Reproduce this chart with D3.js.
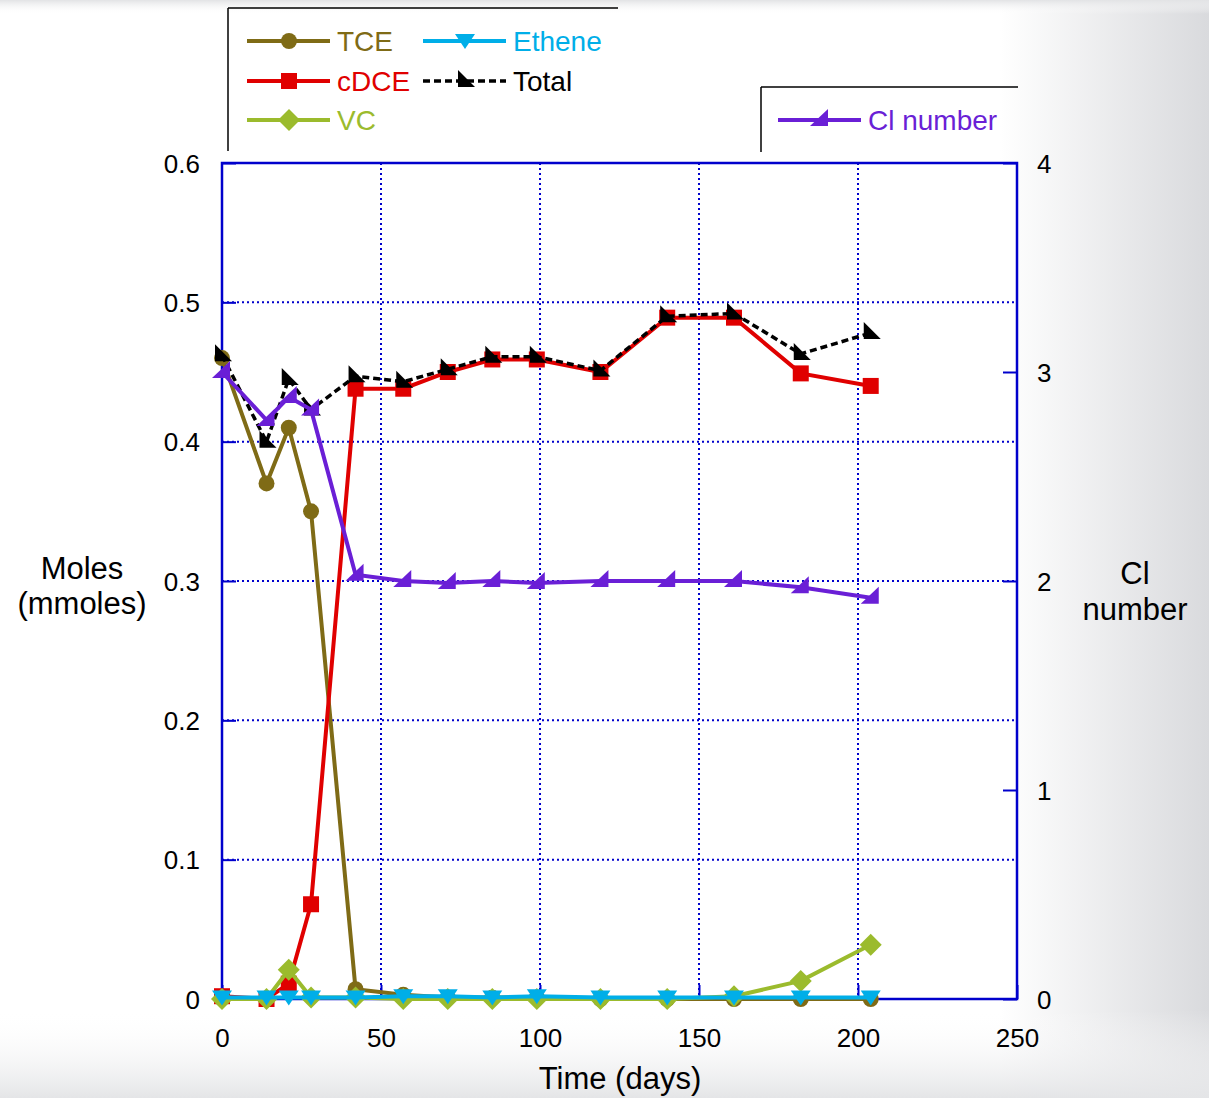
<!DOCTYPE html>
<html>
<head>
<meta charset="utf-8">
<script src="https://cdn.jsdelivr.net/npm/d3@7"></script>
<style>
  body { margin: 0; background: #fff; }
  svg text { font-family: "Liberation Sans", Arial, sans-serif; }
</style>
</head>
<body>
<div id="chart"></div>
<script>
// sampling days
var days = [0, 14, 21, 28, 42, 57, 71, 85, 99, 119, 140, 161, 182, 204];

// moles (mmoles)
var tce    = [0.46, 0.37, 0.41, 0.35, 0.007, 0.003, 0.001, 0.001, 0.001, 0, 0, 0, 0, 0];
var cdce   = [0.002, 0, 0.011, 0.068, 0.438, 0.438, 0.45, 0.459, 0.459, 0.45, 0.489, 0.489, 0.449, 0.44];
var vc     = [0, 0, 0.021, 0.001, 0.001, 0, 0, 0, 0, 0, 0, 0.002, 0.013, 0.039];
var ethene = [0.001, 0.001, 0.001, 0.001, 0.001, 0.002, 0.002, 0.001, 0.002, 0.001, 0.001, 0.001, 0.001, 0.001];
var total  = [0.462, 0.40, 0.445, 0.423, 0.447, 0.443, 0.452, 0.461, 0.461, 0.451, 0.49, 0.492, 0.463, 0.478];

// chlorine number (right axis)
var clNumber = [3.0, 2.77, 2.88, 2.82, 2.03, 2.0, 1.99, 2.0, 1.99, 2.0, 2.0, 2.0, 1.97, 1.92];

var xTicks = [0, 50, 100, 150, 200, 250];
var yTicks = [0, 0.1, 0.2, 0.3, 0.4, 0.5, 0.6];
var y2Ticks = [0, 1, 2, 3, 4];

var W = 1209, H = 1098;
var plot = {left: 222, right: 1017, top: 163, bottom: 999};
var axisBlue = "#0000cc";

var svg = d3.select("#chart").append("svg")
    .attr("width", W)
    .attr("height", H);

// slide background gradients
var defs = svg.append("defs");
var gr = defs.append("linearGradient").attr("id", "gRight").attr("x1", 0).attr("x2", 1).attr("y1", 0).attr("y2", 0);
gr.append("stop").attr("offset", 0).attr("stop-color", "#ffffff");
gr.append("stop").attr("offset", 1).attr("stop-color", "#d9dadd");
var gb = defs.append("linearGradient").attr("id", "gBottom").attr("x1", 0).attr("x2", 0).attr("y1", 0).attr("y2", 1);
gb.append("stop").attr("offset", 0).attr("stop-color", "#ffffff").attr("stop-opacity", 0);
gb.append("stop").attr("offset", 1).attr("stop-color", "#e4e5e7").attr("stop-opacity", 1);
var gt = defs.append("linearGradient").attr("id", "gTop").attr("x1", 0).attr("x2", 0).attr("y1", 0).attr("y2", 1);
gt.append("stop").attr("offset", 0).attr("stop-color", "#e2e3e5").attr("stop-opacity", 1);
gt.append("stop").attr("offset", 1).attr("stop-color", "#ffffff").attr("stop-opacity", 0);

svg.append("rect").attr("width", W).attr("height", H).attr("fill", "#fff");
svg.append("rect").attr("x", 1000).attr("y", 0).attr("width", W - 1000).attr("height", H).attr("fill", "url(#gRight)");
svg.append("rect").attr("x", 0).attr("y", 1010).attr("width", W).attr("height", H - 1010).attr("fill", "url(#gBottom)");
svg.append("rect").attr("x", 0).attr("y", 0).attr("width", W).attr("height", 14).attr("fill", "url(#gTop)");
// white plot area
svg.append("rect").attr("x", plot.left).attr("y", plot.top)
    .attr("width", plot.right - plot.left).attr("height", plot.bottom - plot.top).attr("fill", "#fff");

var x = d3.scaleLinear().domain([0, 250]).range([plot.left, plot.right]);
var y = d3.scaleLinear().domain([0, 0.6]).range([plot.bottom, plot.top]);
var y2 = d3.scaleLinear().domain([0, 4]).range([plot.bottom, plot.top]);

// dotted grid
svg.append("g").selectAll("line.vg")
    .data(xTicks.filter(function(d) { return d > 0 && d < 250; }))
    .enter().append("line")
    .attr("x1", function(d) { return x(d); }).attr("x2", function(d) { return x(d); })
    .attr("y1", plot.top).attr("y2", plot.bottom)
    .attr("stroke", axisBlue).attr("stroke-width", 2).attr("stroke-dasharray", "2,3");
svg.append("g").selectAll("line.hg")
    .data(yTicks.filter(function(d) { return d > 0 && d < 0.6; }))
    .enter().append("line")
    .attr("x1", plot.left).attr("x2", plot.right)
    .attr("y1", function(d) { return y(d); }).attr("y2", function(d) { return y(d); })
    .attr("stroke", axisBlue).attr("stroke-width", 2).attr("stroke-dasharray", "2,3");

// axes (inward ticks, labels drawn by d3 axis)
var xAxis = svg.append("g").attr("transform", "translate(0," + plot.bottom + ")")
    .call(d3.axisBottom(x).tickValues(xTicks).tickSize(-14).tickPadding(39).tickFormat(d3.format("d")));
var yAxis = svg.append("g").attr("transform", "translate(" + plot.left + ",0)")
    .call(d3.axisLeft(y).tickValues(yTicks).tickSize(-14).tickPadding(22).tickFormat(function(d) { return d === 0 ? "0" : d3.format(".1f")(d); }));
var y2Axis = svg.append("g").attr("transform", "translate(" + plot.right + ",0)")
    .call(d3.axisRight(y2).tickValues(y2Ticks).tickSize(-14).tickPadding(20).tickFormat(d3.format("d")));
[xAxis, yAxis, y2Axis].forEach(function(a) {
    a.select(".domain").remove();
    a.selectAll(".tick line").attr("stroke", axisBlue).attr("stroke-width", 2);
    a.selectAll(".tick text").attr("fill", "#000").style("font-size", "26px")
        .style("font-family", "'Liberation Sans', Arial, sans-serif");
});
yAxis.selectAll(".tick text").attr("dy", "0.35em");
y2Axis.selectAll(".tick text").attr("dy", "0.35em");
xAxis.selectAll(".tick text").attr("dy", "0.35em");

// frame
svg.append("rect").attr("x", plot.left).attr("y", plot.top)
    .attr("width", plot.right - plot.left).attr("height", plot.bottom - plot.top)
    .attr("fill", "none").attr("stroke", axisBlue).attr("stroke-width", 2.5);

// axis titles
svg.append("text").attr("x", 82).attr("y", 579).attr("text-anchor", "middle").style("font-size", "31px").text("Moles");
svg.append("text").attr("x", 82).attr("y", 614).attr("text-anchor", "middle").style("font-size", "31px").text("(mmoles)");
svg.append("text").attr("x", 1135).attr("y", 584).attr("text-anchor", "middle").style("font-size", "31px").text("Cl");
svg.append("text").attr("x", 1135).attr("y", 620).attr("text-anchor", "middle").style("font-size", "31px").text("number");
svg.append("text").attr("x", 620).attr("y", 1089).attr("text-anchor", "middle").style("font-size", "31px").text("Time (days)");

// marker shapes
function markerPath(type) {
    if (type === "circle") return d3.symbol().type(d3.symbolCircle).size(200)();
    if (type === "square") return "M-8,-8H8V8H-8Z";
    if (type === "diamond") return "M0,-11L11,0L0,11L-11,0Z";
    if (type === "tridown") return "M-10,-7H10L0,8Z";
    if (type === "total") return "M-7,-11L-7,6L10,6Z";
    if (type === "cl") return "M-10,6L8,6L8,-11Z";
    return "";
}

var series = [
    {name: "TCE", values: tce, color: "#7f6b16", marker: "circle", scale: y, dash: null, width: 4},
    {name: "cDCE", values: cdce, color: "#e00000", marker: "square", scale: y, dash: null, width: 4},
    {name: "VC", values: vc, color: "#9bbb2d", marker: "diamond", scale: y, dash: null, width: 4},
    {name: "Ethene", values: ethene, color: "#00aee8", marker: "tridown", scale: y, dash: null, width: 4},
    {name: "Total", values: total, color: "#000000", marker: "total", scale: y, dash: "7,4", width: 3.5},
    {name: "Cl number", values: clNumber, color: "#6a1fd6", marker: "cl", scale: y2, dash: null, width: 4}
];

series.forEach(function(s) {
    var line = d3.line()
        .x(function(d, i) { return x(days[i]); })
        .y(function(d) { return s.scale(d); });
    svg.append("path")
        .datum(s.values)
        .attr("d", line)
        .attr("fill", "none")
        .attr("stroke", s.color)
        .attr("stroke-width", s.width)
        .attr("stroke-dasharray", s.dash);
    svg.selectAll(null)
        .data(s.values)
        .enter().append("path")
        .attr("d", markerPath(s.marker))
        .attr("transform", function(d, i) { return "translate(" + x(days[i]) + "," + s.scale(d) + ")"; })
        .attr("fill", s.color);
});

// legends (only top and left border drawn)
function legendFrame(x0, y0, x1, y1) {
    svg.append("line").attr("x1", x0).attr("y1", y0).attr("x2", x1).attr("y2", y0).attr("stroke", "#000").attr("stroke-width", 1.5);
    svg.append("line").attr("x1", x0).attr("y1", y0).attr("x2", x0).attr("y2", y1).attr("stroke", "#000").attr("stroke-width", 1.5);
}
legendFrame(228, 8, 618, 151);
legendFrame(761, 87, 1018, 152);

var legendPos = [
    {x: 247, y: 41},
    {x: 247, y: 81},
    {x: 247, y: 120},
    {x: 423, y: 41},
    {x: 423, y: 81},
    {x: 778, y: 120}
];
series.forEach(function(s, i) {
    var p = legendPos[i];
    svg.append("line").attr("x1", p.x).attr("x2", p.x + 83).attr("y1", p.y).attr("y2", p.y)
        .attr("stroke", s.color).attr("stroke-width", s.width).attr("stroke-dasharray", s.dash);
    svg.append("path").attr("d", markerPath(s.marker))
        .attr("transform", "translate(" + (p.x + 42) + "," + p.y + ")")
        .attr("fill", s.color);
    svg.append("text").attr("x", p.x + 90).attr("y", p.y + 10)
        .attr("fill", s.color).style("font-size", "28px").text(s.name);
});
</script>
</body>
</html>
